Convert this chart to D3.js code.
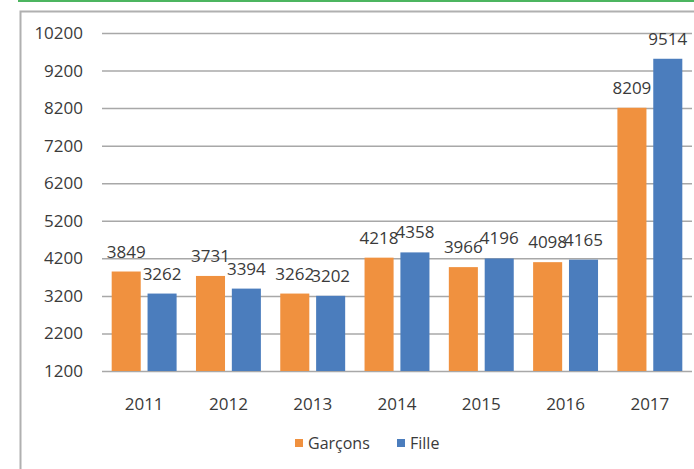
<!DOCTYPE html>
<html>
<head>
<meta charset="utf-8">
<script src="https://cdn.jsdelivr.net/npm/d3@7"></script>
<style>
  body { margin: 0; background: #fff; }
  svg text { font-family: "Open Sans", "Liberation Sans", sans-serif; fill: #3a3a3a; }
</style>
</head>
<body>
<div id="chart"></div>
<script>
var years = ['2011', '2012', '2013', '2014', '2015', '2016', '2017'];
var garcons = [3849, 3731, 3262, 4218, 3966, 4098, 8209];
var fille = [3262, 3394, 3202, 4358, 4196, 4165, 9514];
var yTicks = [1200, 2200, 3200, 4200, 5200, 6200, 7200, 8200, 9200, 10200];
var seriesNames = ['Garçons', 'Fille'];
var seriesColors = ['#f0913f', '#4b7dbd'];

var width = 694, height = 469;
var plot = { left: 102, right: 692, top: 33, bottom: 371 };

var svg = d3.select('#chart').append('svg')
  .attr('width', width)
  .attr('height', height);

// green rule at top + grey frame
svg.append('line')
  .attr('x1', 18).attr('x2', width).attr('y1', 1).attr('y2', 1)
  .attr('stroke', '#4cb560').attr('stroke-width', 2);
svg.append('path')
  .attr('d', 'M20.5,' + height + 'V11.5H' + width)
  .attr('fill', 'none').attr('stroke', '#b0b0b0').attr('stroke-width', 2);

var x = d3.scaleBand().domain(years).range([plot.left, plot.right]);
var xs = d3.scaleBand().domain([0, 1]).range([0, x.bandwidth()])
  .paddingInner(0.19).paddingOuter(0.27);
var y = d3.scaleLinear().domain([1200, 10200]).range([plot.bottom, plot.top]);

// y axis with gridlines
var yAxis = svg.append('g')
  .attr('transform', 'translate(' + plot.left + ',0)')
  .call(d3.axisLeft(y).tickValues(yTicks).tickFormat(d3.format('d'))
    .tickSize(-(plot.right - plot.left)).tickPadding(19));
yAxis.select('.domain').remove();
yAxis.selectAll('line').attr('stroke', '#a8a8a8').attr('stroke-width', 1.5);
yAxis.selectAll('text').attr('font-size', 17).style('fill', '#3a3a3a');

// x axis labels
var xAxis = svg.append('g')
  .attr('transform', 'translate(0,' + plot.bottom + ')')
  .call(d3.axisBottom(x).tickSize(0).tickPadding(27));
xAxis.select('.domain').remove();
xAxis.selectAll('text').attr('font-size', 17).style('fill', '#3a3a3a');

var data = years.map(function(yr, i){
  return { year: yr, values: [garcons[i], fille[i]] };
});

var groups = svg.selectAll('.year')
  .data(data)
  .enter().append('g')
  .attr('class', 'year')
  .attr('transform', function(d){ return 'translate(' + x(d.year) + ',0)'; });

groups.selectAll('rect')
  .data(function(d){ return d.values; })
  .enter().append('rect')
  .attr('x', function(d, i){ return xs(i); })
  .attr('y', function(d){ return y(d); })
  .attr('width', xs.bandwidth())
  .attr('height', function(d){ return plot.bottom - y(d); })
  .attr('fill', function(d, i){ return seriesColors[i]; });

groups.selectAll('.val')
  .data(function(d){ return d.values; })
  .enter().append('text')
  .attr('class', 'val')
  .attr('x', function(d, i){ return xs(i) + xs.bandwidth() / 2; })
  .attr('y', function(d){ return y(d) - 14; })
  .attr('text-anchor', 'middle')
  .attr('font-size', 17)
  .text(function(d){ return d; });

// legend
var legendX = [295, 397];
var legend = svg.selectAll('.legend')
  .data(seriesNames)
  .enter().append('g')
  .attr('class', 'legend')
  .attr('transform', function(d, i){ return 'translate(' + legendX[i] + ',439)'; });
legend.append('rect')
  .attr('width', 8).attr('height', 8)
  .attr('fill', function(d, i){ return seriesColors[i]; });
legend.append('text')
  .attr('x', 13).attr('y', 10)
  .attr('font-size', 16)
  .text(function(d){ return d; });
</script>
</body>
</html>
